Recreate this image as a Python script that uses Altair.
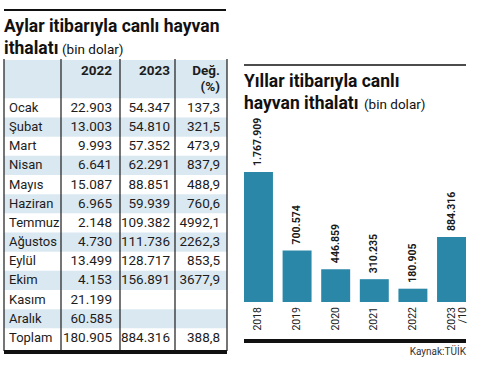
import altair as alt
import pandas as pd

# ---------------- data ----------------
months = ["Ocak", "Şubat", "Mart", "Nisan", "Mayıs", "Haziran", "Temmuz",
          "Ağustos", "Eylül", "Ekim", "Kasım", "Aralık", "Toplam"]
v2022 = [22903, 13003, 9993, 6641, 15087, 6965, 2148, 4730, 13499, 4153,
         21199, 60585, 180905]
v2023 = [54347, 54810, 57352, 62291, 88851, 59939, 109382, 111736, 128717,
         156891, None, None, 884316]
change = [137.3, 321.5, 473.9, 837.9, 488.9, 760.6, 4992.1, 2262.3, 853.5,
          3677.9, None, None, 388.8]
headers = ["2022", "2023", "Değ.", "(%)"]

years = ["2018", "2019", "2020", "2021", "2022", "2023"]
year_labels = ["2018", "2019", "2020", "2021", "2022", "2023\n/10"]
yearly = [1767909, 700574, 446859, 310235, 180905, 884316]

title_left = ["Aylar itibarıyla canlı hayvan", "ithalatı", "(bin dolar)"]
title_right = ["Yıllar itibarıyla canlı", "hayvan ithalatı", "(bin dolar)"]
source = "Kaynak:TÜİK"

# ---------------- style ----------------
FONT = "Roboto"
STRIPE = "#dae8f2"
BAR = "#2a87a7"
TXT = "#1c1c1c"
FS = 13.5
TFS = 17.5


def tr_int(v):
    return f"{int(v):,}".replace(",", ".")


def tr_dec(v):
    return f"{v:.1f}".replace(".", ",")


def one(t=""):
    return pd.DataFrame({"t": [t]})


# ---------------- left: table ----------------
xs = alt.Scale(domain=[0, 1, 2, 3, 4], range=[4, 61, 120, 175, 227], nice=False, zero=False)
ys = alt.Scale(domain=[0, 15], range=[60, 347.5], nice=False, zero=False)

n = len(months)
bg = pd.DataFrame({
    "r0": [0] + [2 + i for i in range(n) if i % 2 == 1],
    "r1": [2] + [3 + i for i in range(n) if i % 2 == 1],
})
bg["c0"] = 0
bg["c1"] = 4

rects = alt.Chart(bg).mark_rect(color=STRIPE).encode(
    x=alt.X("c0:Q", scale=xs, axis=None), x2="c1:Q",
    y=alt.Y("r0:Q", scale=ys, axis=None), y2="r1:Q",
)

vl = alt.Chart(pd.DataFrame({"c": [0, 1, 2, 3, 4]})).mark_rule(
    color="#1a1a1a", strokeWidth=1.2
).encode(x=alt.X("c:Q", scale=xs, axis=None), y=alt.value(59), y2=alt.value(351))


def textlayer(df, dx, align="right", bold=False, size=FS):
    return alt.Chart(df).mark_text(
        align=align, baseline="middle", dx=dx, font=FONT, fontSize=size,
        fontWeight="bold" if bold else "normal", color=TXT
    ).encode(
        x=alt.X("c:Q", scale=xs, axis=None),
        y=alt.Y("mid:Q", scale=ys, axis=None),
        text="t:N",
    )


month_df = pd.DataFrame({"t": months, "c": 0, "mid": [2.5 + i for i in range(n)]})
col_specs = [
    (2, -8, [tr_int(v) for v in v2022]),
    (3, -5, [tr_int(v) if v is not None else "" for v in v2023]),
    (4, -7, [tr_dec(v) if v is not None else "" for v in change]),
]
layers_left = [rects, textlayer(month_df, 5, align="left", size=13)]
for c, dx, vals in col_specs:
    d = pd.DataFrame({"t": vals, "c": c, "mid": [2.5 + i for i in range(n)]})
    d = d[d["t"] != ""]
    layers_left.append(textlayer(d, dx))

hdr = pd.DataFrame({"t": headers, "c": [2, 3, 4, 4], "mid": [0.58, 0.58, 0.58, 1.4]})
for c, dx, _ in col_specs:
    layers_left.append(textlayer(hdr[hdr["c"] == c], dx, bold=True))

layers_left.append(vl)

# title + rules (left)
layers_left += [
    alt.Chart(one()).mark_rule(color="#111", strokeWidth=2).encode(
        x=alt.value(4), x2=alt.value(226), y=alt.value(10)),
    alt.Chart(one()).mark_rule(color="#111", strokeWidth=4).encode(
        x=alt.value(4), x2=alt.value(227), y=alt.value(352)),
    alt.Chart(one(title_left[0])).mark_text(
        align="left", baseline="alphabetic", font=FONT, fontSize=TFS, fontWeight="bold", color="#111"
    ).encode(x=alt.value(4), y=alt.value(32), text="t:N"),
    alt.Chart(one(title_left[1])).mark_text(
        align="left", baseline="alphabetic", font=FONT, fontSize=TFS, fontWeight="bold", color="#111"
    ).encode(x=alt.value(4), y=alt.value(54), text="t:N"),
    alt.Chart(one(title_left[2])).mark_text(
        align="left", baseline="alphabetic", font=FONT, fontSize=13.5, color="#111"
    ).encode(x=alt.value(62), y=alt.value(54), text="t:N"),
]

left = alt.layer(*layers_left).properties(width=240, height=378)

# ---------------- right: bar chart ----------------
ydf = pd.DataFrame({
    "year": years, "label": year_labels, "value": yearly,
    "vtxt": [tr_int(v) for v in yearly], "zero": 0,
})
bx = alt.Scale(domain=years, range=[4, 226], paddingInner=0.25, paddingOuter=0)
by = alt.Scale(range=[302, 172], nice=False, zero=True)

bars = alt.Chart(ydf).mark_bar(color=BAR).encode(
    x=alt.X("year:N", scale=bx, axis=None),
    y=alt.Y("value:Q", scale=by, axis=None),
)
vals = alt.Chart(ydf).mark_text(
    angle=270, align="left", baseline="middle", dx=6, font=FONT,
    fontSize=10.5, fontWeight="bold", color="#1a1a1a"
).encode(
    x=alt.X("year:N", scale=bx, axis=None),
    y=alt.Y("value:Q", scale=by, axis=None),
    text="vtxt:N",
)
xlab = alt.Chart(ydf).mark_text(
    angle=270, align="right", baseline="middle", dx=-5, font=FONT,
    fontSize=10.5, color="#222", lineBreak="\n", lineHeight=11
).encode(
    x=alt.X("year:N", scale=bx, axis=None),
    y=alt.Y("zero:Q", scale=by, axis=None),
    text="label:N",
)

layers_right = [
    bars, vals, xlab,
    alt.Chart(one()).mark_rule(color="#111", strokeWidth=1.3).encode(
        x=alt.value(4), x2=alt.value(226), y=alt.value(65)),
    alt.Chart(one()).mark_rule(color="#111", strokeWidth=4).encode(
        x=alt.value(4), x2=alt.value(226), y=alt.value(341)),
    alt.Chart(one(title_right[0])).mark_text(
        align="left", baseline="alphabetic", font=FONT, fontSize=TFS, fontWeight="bold", color="#111"
    ).encode(x=alt.value(4), y=alt.value(87), text="t:N"),
    alt.Chart(one(title_right[1])).mark_text(
        align="left", baseline="alphabetic", font=FONT, fontSize=TFS, fontWeight="bold", color="#111"
    ).encode(x=alt.value(4), y=alt.value(109), text="t:N"),
    alt.Chart(one(title_right[2])).mark_text(
        align="left", baseline="alphabetic", font=FONT, fontSize=13.5, color="#111"
    ).encode(x=alt.value(124), y=alt.value(109), text="t:N"),
    alt.Chart(one(source)).mark_text(
        align="right", baseline="middle", font=FONT, fontSize=10, color="#333"
    ).encode(x=alt.value(226), y=alt.value(352), text="t:N"),
]
right = alt.layer(*layers_right).properties(width=238, height=378)

chart = alt.hconcat(left, right, spacing=0, bounds="flush").properties(
    padding=0, background="white"
).configure_view(stroke=None)

chart.save("out.html", embed_options={"renderer": "svg", "actions": False})
